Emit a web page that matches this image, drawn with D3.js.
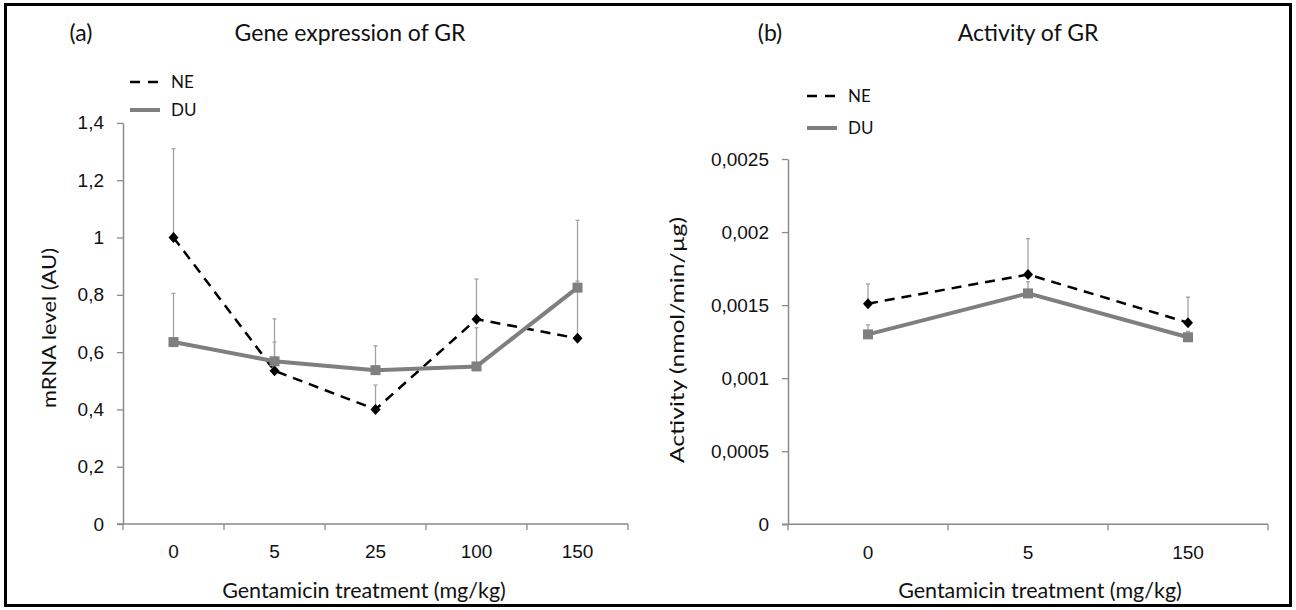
<!DOCTYPE html>
<html>
<head>
<meta charset="utf-8">
<script src="https://cdn.jsdelivr.net/npm/d3@7"></script>
<style>
  html, body { margin: 0; padding: 0; background: #fff; }
  svg { display: block; font-family: Lato, "Open Sans", sans-serif; }
</style>
</head>
<body>
<svg id="chart" width="1296" height="610"></svg>
<script>
// ---------- DATA ----------
const categoriesA = ["0", "5", "25", "100", "150"];
const neA     = [1.0, 0.535, 0.40, 0.715, 0.648];
const neAErr  = [0.31, 0.10, 0.085, 0.14, 0.20];
const duA     = [0.635, 0.568, 0.537, 0.55, 0.825];
const duAErr  = [0.17, 0.148, 0.085, 0.135, 0.235];
const ticksA  = [0, 0.2, 0.4, 0.6, 0.8, 1, 1.2, 1.4];

const categoriesB = ["0", "5", "150"];
const neB     = [0.00151, 0.00171, 0.00138];
const neBErr  = [0.000135, 0.000245, 0.000175];
const duB     = [0.00130, 0.00158, 0.00128];
const duBErr  = [0.000065, 0.00008, 0.00004];
const ticksB  = [0, 0.0005, 0.001, 0.0015, 0.002, 0.0025];

const seriesNames = ["NE", "DU"];

// ---------- STYLE ----------
const AXIS_COLOR = "#8a8a8a";
const TEXT_COLOR = "#111";
const ERR_COLOR = "#a3a3a3";
const NE_COLOR = "#000";
const DU_COLOR = "#7f7f7f";

const svg = d3.select("#chart");

// outer frame
svg.append("rect")
  .attr("x", 5.5).attr("y", 4.5).attr("width", 1285).attr("height", 601)
  .attr("fill", "none").attr("stroke", "#000").attr("stroke-width", 3);

const fmt = d => String(d).replace(".", ",");

function panel(cfg) {
  const g = svg.append("g");
  const x = d3.scaleBand().domain(cfg.categories).range(cfg.xRange).padding(0);
  const y = d3.scaleLinear().domain(cfg.yDomain).range(cfg.yRange);
  const cx = c => x(c) + x.bandwidth() / 2;

  // y axis
  const yAx = g.append("g").attr("transform", `translate(${cfg.xRange[0]},0)`)
    .call(d3.axisLeft(y).tickValues(cfg.ticks).tickFormat(fmt).tickSize(6).tickSizeOuter(0).tickPadding(13));
  yAx.select(".domain").attr("stroke", AXIS_COLOR).attr("stroke-width", 1.5);
  yAx.selectAll(".tick line").attr("stroke", AXIS_COLOR).attr("stroke-width", 1.3);
  yAx.selectAll(".tick text").attr("fill", TEXT_COLOR).style("font-size", "19px");

  // x axis: line + boundary ticks + centered labels
  const x0 = y(0);
  const xAx = g.append("g").attr("transform", `translate(0,${x0})`)
    .call(d3.axisBottom(x).tickSize(0).tickSizeOuter(0).tickPadding(21));
  xAx.select(".domain").remove();
  xAx.selectAll(".tick text").attr("fill", TEXT_COLOR).style("font-size", "19px");
  g.append("line")
    .attr("x1", cfg.xRange[0] - 6).attr("x2", cfg.xRange[1])
    .attr("y1", x0).attr("y2", x0)
    .attr("stroke", AXIS_COLOR).attr("stroke-width", 1.5);
  const bounds = cfg.categories.map(c => x(c)).concat([x(cfg.categories[cfg.categories.length - 1]) + x.bandwidth()]);
  g.selectAll("line.bt").data(bounds).enter().append("line")
    .attr("x1", d => d).attr("x2", d => d)
    .attr("y1", x0).attr("y2", x0 + 6)
    .attr("stroke", AXIS_COLOR).attr("stroke-width", 1.3);

  // titles
  g.append("text").attr("x", cfg.tagX).attr("y", 41).attr("text-anchor", "middle")
    .attr("fill", TEXT_COLOR).style("font-size", "23px").text(cfg.tag);
  g.append("text").attr("x", cfg.titleX).attr("y", 41).attr("text-anchor", "middle")
    .attr("fill", TEXT_COLOR).style("font-size", "23px").text(cfg.title);
  g.append("text").attr("x", cfg.xTitleX).attr("y", 598).attr("text-anchor", "middle")
    .attr("fill", TEXT_COLOR).style("font-size", "21.5px").text("Gentamicin treatment (mg/kg)");
  g.append("text")
    .attr("transform", `translate(${cfg.yTitleX},${cfg.yTitleY}) rotate(-90)`)
    .attr("text-anchor", "middle").attr("dy", "0.35em")
    .attr("textLength", cfg.yTitleLen).attr("lengthAdjust", "spacingAndGlyphs")
    .attr("fill", TEXT_COLOR).style("font-size", "20px").text(cfg.yTitle);

  // error bars (upward only)
  function errBars(vals, errs, cls) {
    const d = cfg.categories.map((c, i) => ({ c, v: vals[i], e: errs[i] }));
    const eg = g.append("g").attr("class", cls);
    eg.selectAll("line.v").data(d).enter().append("line")
      .attr("x1", d => cx(d.c)).attr("x2", d => cx(d.c))
      .attr("y1", d => y(d.v)).attr("y2", d => y(d.v + d.e))
      .attr("stroke", ERR_COLOR).attr("stroke-width", 1.3);
    eg.selectAll("line.cap").data(d).enter().append("line")
      .attr("x1", d => cx(d.c) - 2).attr("x2", d => cx(d.c) + 2)
      .attr("y1", d => y(d.v + d.e)).attr("y2", d => y(d.v + d.e))
      .attr("stroke", ERR_COLOR).attr("stroke-width", 1.3);
  }
  errBars(cfg.ne, cfg.neErr, "errNE");
  errBars(cfg.du, cfg.duErr, "errDU");

  const line = d3.line().x(d => cx(d.c)).y(d => y(d.v));

  // NE series (dashed black, diamonds)
  const neData = cfg.categories.map((c, i) => ({ c, v: cfg.ne[i] }));
  g.append("path").datum(neData).attr("d", line)
    .attr("fill", "none").attr("stroke", NE_COLOR).attr("stroke-width", 2.5)
    .attr("stroke-dasharray", "10,7");
  g.selectAll("path.dia").data(neData).enter().append("path")
    .attr("d", d => { const px = cx(d.c), py = y(d.v); return `M${px},${py - 5.5}L${px + 5},${py}L${px},${py + 5.5}L${px - 5},${py}Z`; })
    .attr("fill", NE_COLOR);

  // DU series (solid gray, squares)
  const duData = cfg.categories.map((c, i) => ({ c, v: cfg.du[i] }));
  g.append("path").datum(duData).attr("d", line)
    .attr("fill", "none").attr("stroke", DU_COLOR).attr("stroke-width", 4);
  g.selectAll("rect.sq").data(duData).enter().append("rect")
    .attr("x", d => cx(d.c) - 5).attr("y", d => y(d.v) - 5)
    .attr("width", 10).attr("height", 10).attr("fill", DU_COLOR);

  // legend
  const lg = g.append("g");
  seriesNames.forEach((name, i) => {
    const ly = cfg.legendY[i];
    lg.append("line")
      .attr("x1", cfg.legendX).attr("x2", cfg.legendX + 30)
      .attr("y1", ly).attr("y2", ly)
      .attr("stroke", i === 0 ? NE_COLOR : DU_COLOR)
      .attr("stroke-width", i === 0 ? 2.5 : 4)
      .attr("stroke-dasharray", i === 0 ? "10,8" : null);
    lg.append("text").attr("x", cfg.legendX + 41).attr("y", ly).attr("dy", "0.35em")
      .attr("fill", TEXT_COLOR).style("font-size", "17px").text(name);
  });
}

panel({
  categories: categoriesA, ne: neA, neErr: neAErr, du: duA, duErr: duAErr,
  ticks: ticksA, yDomain: [0, 1.4], yRange: [524, 122.9], xRange: [123, 628],
  tag: "(a)", tagX: 81, title: "Gene expression of GR", titleX: 350,
  xTitleX: 364, yTitle: "mRNA level (AU)", yTitleX: 49, yTitleY: 328, yTitleLen: 160,
  legendX: 130, legendY: [82, 110]
});

panel({
  categories: categoriesB, ne: neB, neErr: neBErr, du: duB, duErr: duBErr,
  ticks: ticksB, yDomain: [0, 0.0025], yRange: [524.3, 159], xRange: [788, 1268],
  tag: "(b)", tagX: 770, title: "Activity of GR", titleX: 1028,
  xTitleX: 1040, yTitle: "Activity (nmol/min/µg)", yTitleX: 677, yTitleY: 340, yTitleLen: 246,
  legendX: 807, legendY: [96, 128]
});
</script>
</body>
</html>
